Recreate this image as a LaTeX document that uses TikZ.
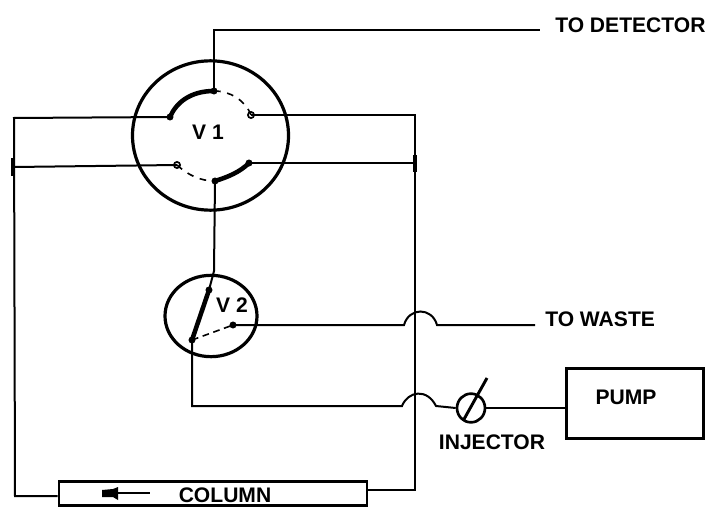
\documentclass[tikz,border=0pt]{standalone}
\usepackage{fontspec}
\setmainfont{Liberation Sans}
\usetikzlibrary{shapes.geometric}
\tikzset{
  wire/.style={line width=1.5pt,line join=miter},
  thickarc/.style={line width=3.4pt,line cap=round},
  dasharc/.style={line width=1.2pt,dash pattern=on 5pt off 5pt},
  valve/.style={draw,ellipse,line width=2.4pt,inner sep=0pt},
  portfull/.style={circle,fill=black,draw=black,inner sep=0pt,minimum size=4.8pt},
  portopen/.style={circle,fill=white,draw=black,line width=1.3pt,inner sep=0pt,minimum size=4.6pt},
  lbl/.style={font=\fontsize{15.8pt}{16pt}\selectfont\bfseries,inner sep=0pt,text=black},
  box/.style={draw,rectangle,line width=2.1pt,inner sep=0pt},
  tick/.style={line width=3pt}
}
\begin{document}
\begin{tikzpicture}[x=0.75pt,y=-0.75pt]
\useasboundingbox (0,0) rectangle (709,506);
% valves
\node[valve,minimum width=117pt,minimum height=112pt] (v1) at (210.5,135.5) {};
\node[valve,minimum width=69pt,minimum height=61pt] (v2) at (211,316) {};
% boxes
\node[box,minimum width=103pt,minimum height=53pt] (pump) at (635,403.5) {};
\node[box,minimum width=231pt,minimum height=17.5pt] (column) at (213,493.5) {};
\node[draw,ellipse,line width=2pt,inner sep=0pt,minimum width=21pt,minimum height=21.5pt] (inj) at (471,408) {};
% ports
\node[portfull] (a) at (214,91) {};
\node[portfull] (b) at (170,117) {};
\node[portopen] (c) at (251,115) {};
\node[portopen] (d) at (177,165) {};
\node[portfull] (e) at (249,163) {};
\node[portfull] (f) at (215,181) {};
\node[portfull] (p) at (209,290) {};
\node[portfull] (q) at (192,340) {};
\node[portfull] (r) at (233,325) {};
% free points
\coordinate (det) at (540,30);
\coordinate (wasteend) at (535,325);
\coordinate (hw1) at (404,325);
\coordinate (hw2) at (437,325);
\coordinate (hi1) at (402,406);
\coordinate (hi2) at (436,406);
\coordinate (lt) at (14,118);
\coordinate (lb) at (14,167);
\coordinate (lc) at (15,496);
\coordinate (rt) at (415,115);
\coordinate (rb) at (415,163);
\coordinate (rc) at (415,490);
\coordinate (v2in) at (214,271);
\coordinate (slashA) at (463,421);
\coordinate (slashB) at (487,378);
% wires
\draw[wire] (a.center) |- (det);
\draw[wire] (b.center) -- (lt) -- (lc) -- (lc -| column.west);
\draw[wire] (d.center) -- (lb);
\draw[wire] (c.center) -- (rt) -- (rc) -- (rc -| column.east);
\draw[wire] (e.center) -- (rb);
\draw[wire] (f.center) -- (v2in) -- (p.center);
\draw[wire] (q.center) |- (hi1) .. controls (408,391) and (427,388) .. (hi2) -- (inj.west);
\draw[wire] (r.center) -- (hw1) .. controls (409,307) and (432,307) .. (hw2) -- (wasteend);
\draw[wire] (inj.east) -- (pump.west |- inj.east);
\draw[line width=2.2pt] (slashA) -- (slashB);
% junction ticks
\draw[tick] (13,158) -- (13,176);
\draw[tick] (415,155) -- (415,172);
% valve internals
\draw[thickarc] (b.center) .. controls (176,103) and (190,91) .. (a.center);
\draw[dasharc] (a.center) .. controls (230,91) and (245,100) .. (c.center);
\draw[thickarc] (f.center) .. controls (228,177) and (240,172) .. (e.center);
\draw[dasharc] (d.center) .. controls (188,175) and (200,181) .. (f.center);
\draw[thickarc] (p.center) -- (q.center);
\draw[line width=1.2pt,dash pattern=on 5pt off 3.5pt] (q.center) -- (r.center);
% column arrow
\fill (102,490) -- (113,489) -- (118,487) -- (118,500) -- (113,497) -- (102,497) -- cycle;
\draw[line width=1.6pt] (118,493) -- (150,493);
% labels
\node[lbl] (t1) at (208,132) {V 1};
\node[lbl] (t2) at (232,305) {V 2};
\node[lbl,anchor=west] (t3) at (555,25) {TO DETECTOR};
\node[lbl,anchor=west] (t4) at (545,319.5) {TO WASTE};
\node[lbl] (t5) at (626,397) {PUMP};
\node[lbl] (t6) at (492,442.5) {INJECTOR};
\node[lbl] (t7) at (225,495) {COLUMN};
\end{tikzpicture}
\end{document}
